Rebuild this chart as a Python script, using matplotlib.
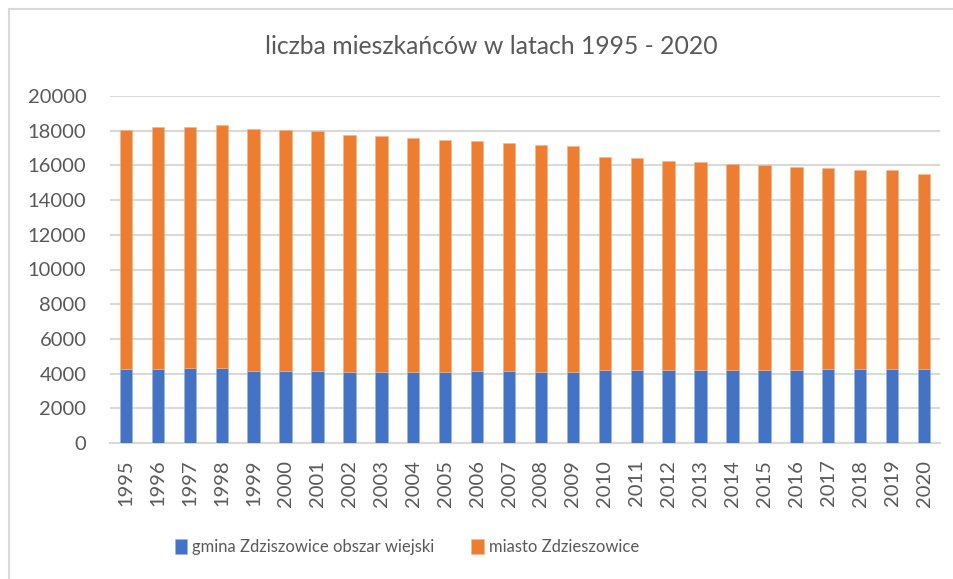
import matplotlib
matplotlib.use('Agg')
import matplotlib.pyplot as plt
import matplotlib.lines as mlines
import numpy as np

# dane: liczba mieszkańców 1995 - 2020
years = [str(y) for y in range(1995, 2021)]
wiejski = [4270, 4270, 4310, 4300, 4140, 4140, 4140, 4100, 4100, 4100, 4100, 4140, 4130,
           4120, 4120, 4180, 4200, 4200, 4200, 4180, 4200, 4200, 4260, 4260, 4260, 4240]
razem = [18040, 18200, 18230, 18310, 18100, 18040, 17965, 17750, 17690, 17580, 17480, 17420, 17280,
         17175, 17115, 16480, 16405, 16250, 16190, 16075, 16000, 15900, 15845, 15730, 15710, 15480]
miasto = [r - w for r, w in zip(razem, wiejski)]

blue = '#4472C4'
orange = '#ED7D31'
txt = '#595959'
grid = '#D9D9D9'

plt.rcParams['font.family'] = ['Lato', 'DejaVu Sans']

fig = plt.figure(figsize=(9.54, 5.79), dpi=100)
ax = fig.add_axes([110/954, 1 - 443/579, 830/954, 347/579])

x = np.arange(len(years))
ax.bar(x, wiejski, width=0.39, color=blue, edgecolor='#9DB4E0', linewidth=0.4,
       label='gmina Zdziszowice obszar wiejski', zorder=3)
ax.bar(x, miasto, width=0.39, bottom=wiejski, color=orange, edgecolor='#F5B68F', linewidth=0.4,
       label='miasto Zdzieszowice', zorder=3)

ax.set_xlim(-0.5, len(years) - 0.5)
ax.set_ylim(0, 20000)
ax.set_yticks(range(0, 20001, 2000))
ax.set_xticks(x)
ax.set_xticklabels(years, rotation=90)
ax.yaxis.grid(True, color=grid, linewidth=1.5, zorder=0)
ax.tick_params(axis='both', length=0, labelsize=14.5, colors=txt)
ax.tick_params(axis='x', pad=12)
ax.tick_params(axis='y', pad=17)
for s in ['top', 'right', 'left']:
    ax.spines[s].set_visible(False)
ax.spines['bottom'].set_color(grid)
ax.spines['bottom'].set_linewidth(1.5)

fig.text(491/954, 1 - 47/579, 'liczba mieszkańców w latach 1995 - 2020',
         ha='center', va='center', fontsize=17.8, color=txt)

fig.legend(loc='center', bbox_to_anchor=(407/954, 1 - 547/579), ncol=2, frameon=False,
           fontsize=12, labelcolor=txt, handlelength=0.75, handleheight=1.0,
           handletextpad=0.3, columnspacing=2.2)

# ramka wykresu
fig.add_artist(mlines.Line2D([9/954, 9/954], [0, 1 - 9/579], color=grid, linewidth=1.5))
fig.add_artist(mlines.Line2D([9/954, 1], [1 - 9/579, 1 - 9/579], color=grid, linewidth=1.5))

fig.savefig('out.png', dpi=100)
